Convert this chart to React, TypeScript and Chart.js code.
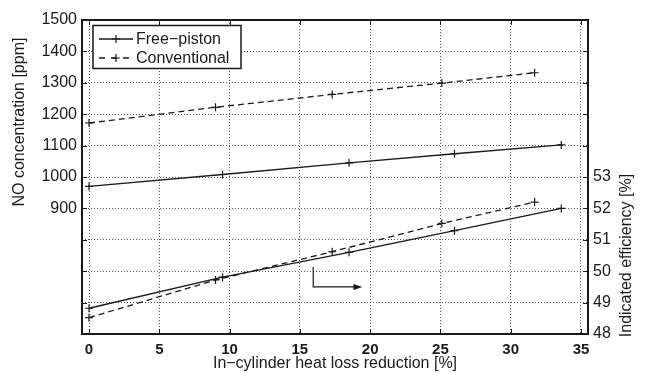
import React, { useEffect, useRef } from "react";
import { Chart, registerables } from "chart.js";

Chart.register(...registerables);

// Heat loss reduction [%] at each simulated operating point
const freePistonX = [0, 9.5, 18.5, 26, 33.6];
const conventionalX = [0, 9, 17.3, 25.1, 31.7];

// NO concentration [ppm]
const freePistonNO = [970, 1008, 1045, 1074, 1102];
const conventionalNO = [1172, 1222, 1263, 1299, 1332];

// Indicated efficiency [%]
const freePistonEff = [48.82, 49.81, 50.6, 51.29, 52.0];
const conventionalEff = [48.52, 49.72, 50.62, 51.52, 52.2];

// Axis ticks
const xTicks = [0, 5, 10, 15, 20, 25, 30, 35];
const noTicks = [500, 600, 700, 800, 900, 1000, 1100, 1200, 1300, 1400, 1500];
const effTicks = [48, 49, 50, 51, 52, 53, 54, 55, 56, 57, 58];
const noLabelMin = 900;
const effLabelMax = 53;

const seriesLabels = ["Free\u2212piston", "Conventional"];
const xTitle = "In\u2212cylinder heat loss reduction [%]";
const yTitle = "NO concentration [ppm]";
const y2Title = "Indicated efficiency [%]";

const INK = "#1a1a1a";
const FONT_FAMILY = "'Liberation Sans', Arial, Helvetica, sans-serif";
const DASH = [6, 4];

const toPoints = (xs: number[], ys: number[]) => xs.map((x, i) => ({ x, y: ys[i] }));

const framePlugin = {
  id: "frameAndTicks",
  afterDatasetsDraw(chart: any) {
    const { ctx, chartArea: a, scales } = chart;
    ctx.save();
    ctx.strokeStyle = INK;
    ctx.lineWidth = 1;
    const len = 5;
    ctx.beginPath();
    for (const v of xTicks) {
      const px = Math.round(scales.x.getPixelForValue(v)) + 0.5;
      ctx.moveTo(px, a.bottom);
      ctx.lineTo(px, a.bottom - len);
      ctx.moveTo(px, a.top);
      ctx.lineTo(px, a.top + len);
    }
    for (const v of noTicks) {
      const py = Math.round(scales.y.getPixelForValue(v)) + 0.5;
      ctx.moveTo(a.left, py);
      ctx.lineTo(a.left + len, py);
    }
    for (const v of effTicks) {
      const py = Math.round(scales.y2.getPixelForValue(v)) + 0.5;
      ctx.moveTo(a.right, py);
      ctx.lineTo(a.right - len, py);
    }
    ctx.stroke();
    ctx.lineWidth = 2;
    ctx.strokeRect(a.left, a.top, a.right - a.left, a.bottom - a.top);
    ctx.restore();
  },
};

const arrowPlugin = {
  id: "effArrow",
  afterDatasetsDraw(chart: any) {
    const { ctx, scales } = chart;
    const x0 = scales.x.getPixelForValue(15.95);
    const x1 = scales.x.getPixelForValue(19.45);
    const yTop = scales.y2.getPixelForValue(50.13);
    const yMid = scales.y2.getPixelForValue(49.5);
    ctx.save();
    ctx.strokeStyle = INK;
    ctx.fillStyle = INK;
    ctx.lineWidth = 1.2;
    ctx.beginPath();
    ctx.moveTo(x0, yTop);
    ctx.lineTo(x0, yMid);
    ctx.lineTo(x1 - 6, yMid);
    ctx.stroke();
    ctx.beginPath();
    ctx.moveTo(x1, yMid);
    ctx.lineTo(x1 - 9, yMid - 3);
    ctx.lineTo(x1 - 9, yMid + 3);
    ctx.closePath();
    ctx.fill();
    ctx.restore();
  },
};

const titlesPlugin = {
  id: "axisTitles",
  afterDraw(chart: any) {
    const { ctx, chartArea: a, scales } = chart;
    ctx.save();
    ctx.fillStyle = INK;
    ctx.font = `16px ${FONT_FAMILY}`;
    ctx.textAlign = "center";
    ctx.textBaseline = "middle";
    ctx.fillText(xTitle, (a.left + a.right) / 2, 364);

    const yc = scales.y.getPixelForValue(1175);
    ctx.save();
    ctx.translate(20, yc);
    ctx.rotate(-Math.PI / 2);
    ctx.fillText(yTitle, 0, 0);
    ctx.restore();

    const y2c = scales.y2.getPixelForValue(50.5);
    ctx.save();
    ctx.translate(627, y2c);
    ctx.rotate(-Math.PI / 2);
    ctx.fillText(y2Title, 0, 0);
    ctx.restore();
    ctx.restore();
  },
};

const legendPlugin = {
  id: "boxLegend",
  afterDraw(chart: any) {
    const { ctx, chartArea: a } = chart;
    const bx = a.left + 11;
    const by = a.top + 5.5;
    const bw = 148;
    const bh = 43;
    ctx.save();
    ctx.fillStyle = "#ffffff";
    ctx.fillRect(bx, by, bw, bh);
    ctx.strokeStyle = INK;
    ctx.lineWidth = 1.5;
    ctx.strokeRect(bx, by, bw, bh);
    ctx.font = `16px ${FONT_FAMILY}`;
    ctx.textBaseline = "middle";
    ctx.textAlign = "left";
    const rows = [by + 13.5, by + 32.5];
    seriesLabels.forEach((label, i) => {
      const ds = chart.data.datasets[i];
      const y = rows[i];
      const l0 = bx + 6;
      const l1 = bx + 40;
      const cx = (l0 + l1) / 2;
      ctx.strokeStyle = ds.borderColor;
      ctx.lineWidth = ds.borderWidth;
      if (ds.borderDash && ds.borderDash.length) {
        ctx.setLineDash([6, 6]);
        ctx.lineDashOffset = 0;
      }
      ctx.beginPath();
      ctx.moveTo(l0, y);
      ctx.lineTo(l1, y);
      ctx.stroke();
      ctx.setLineDash([]);
      ctx.lineWidth = 1.2;
      ctx.beginPath();
      ctx.moveTo(cx - 4, y);
      ctx.lineTo(cx + 4, y);
      ctx.moveTo(cx, y - 4);
      ctx.lineTo(cx, y + 4);
      ctx.stroke();
      ctx.fillStyle = INK;
      ctx.fillText(label, bx + 43, y + 0.5);
    });
    ctx.restore();
  },
};

export default function App() {
  const canvasRef = useRef<HTMLCanvasElement | null>(null);

  useEffect(() => {
    const canvas = canvasRef.current;
    if (!canvas) return;

    const lineStyle = (dashed: boolean) => ({
      borderColor: INK,
      backgroundColor: INK,
      borderWidth: 1.3,
      borderDash: dashed ? DASH : [],
      pointStyle: "cross" as const,
      pointRadius: 4,
      pointBorderWidth: 1.2,
      pointBorderColor: INK,
      fill: false,
      tension: 0,
    });

    const tickFont = { family: FONT_FAMILY, size: 16 };
    const xTickFont = { family: FONT_FAMILY, size: 15, weight: "bold" as const };
    const gridStyle = { color: "#555555", lineWidth: 1, drawTicks: false };

    const chart = new Chart(canvas, {
      type: "line",
      data: {
        datasets: [
          { label: seriesLabels[0], data: toPoints(freePistonX, freePistonNO), yAxisID: "y", ...lineStyle(false) },
          { label: seriesLabels[1], data: toPoints(conventionalX, conventionalNO), yAxisID: "y", ...lineStyle(true) },
          { label: seriesLabels[0], data: toPoints(freePistonX, freePistonEff), yAxisID: "y2", ...lineStyle(false) },
          { label: seriesLabels[1], data: toPoints(conventionalX, conventionalEff), yAxisID: "y2", ...lineStyle(true) },
        ],
      },
      options: {
        responsive: false,
        animation: false,
        layout: { padding: { top: 20, left: 0, right: 0, bottom: 0 } },
        plugins: { legend: { display: false }, tooltip: { enabled: false } },
        scales: {
          x: {
            type: "linear",
            min: -0.5,
            max: 35.5,
            afterBuildTicks: (s: any) => {
              s.ticks = xTicks.map((value) => ({ value }));
            },
            afterFit: (s: any) => {
              s.height = 39;
            },
            grid: gridStyle,
            border: { display: false, dash: [1, 2] },
            ticks: { padding: 7, font: xTickFont, color: INK, callback: (v: any) => String(v) },
          },
          y: {
            type: "linear",
            position: "left",
            min: 500,
            max: 1500,
            afterBuildTicks: (s: any) => {
              s.ticks = noTicks.map((value) => ({ value }));
            },
            afterFit: (s: any) => {
              s.width = 82;
            },
            grid: gridStyle,
            border: { display: false, dash: [1, 2] },
            ticks: {
              padding: 5,
              font: tickFont,
              color: INK,
              callback: (v: any) => (Number(v) >= noLabelMin ? String(v) : ""),
            },
          },
          y2: {
            type: "linear",
            position: "right",
            min: 48,
            max: 58,
            afterBuildTicks: (s: any) => {
              s.ticks = effTicks.map((value) => ({ value }));
            },
            afterFit: (s: any) => {
              s.width = 57;
            },
            grid: { display: false, drawTicks: false },
            border: { display: false },
            ticks: {
              padding: 5,
              font: tickFont,
              color: INK,
              callback: (v: any) => (Number(v) <= effLabelMax ? String(v) : ""),
            },
          },
        },
      },
      plugins: [framePlugin, arrowPlugin, titlesPlugin, legendPlugin],
    } as any);

    return () => chart.destroy();
  }, []);

  return (
    <div style={{ position: "fixed", left: 0, top: 0, width: 645, height: 373, background: "#ffffff" }}>
      <canvas ref={canvasRef} width={645} height={373} style={{ display: "block" }} />
    </div>
  );
}
